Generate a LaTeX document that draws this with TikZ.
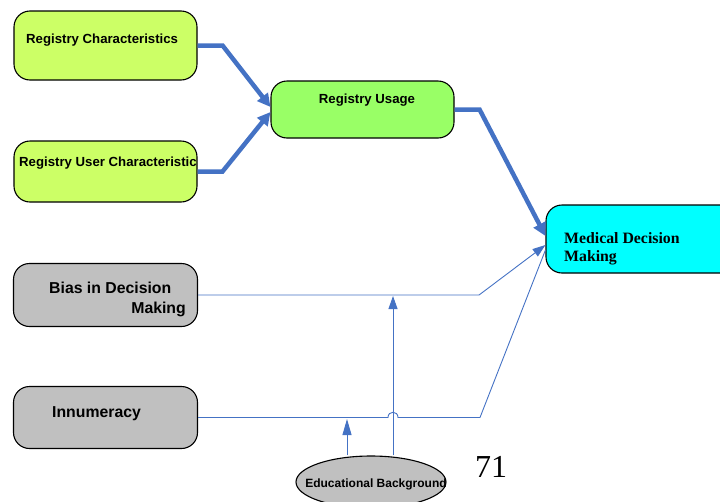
\documentclass[tikz,border=0pt]{standalone}
\usepackage{fontspec}
\setmainfont{Liberation Sans}
\newfontfamily\serifface{Liberation Serif}
\usetikzlibrary{arrows.meta,shapes.geometric}
\definecolor{limebox}{HTML}{CCFF66}
\definecolor{greenbox}{HTML}{99FF66}
\definecolor{cyanbox}{HTML}{00FFFF}
\definecolor{graybox}{HTML}{C0C0C0}
\definecolor{flow}{HTML}{4472C4}
\begin{document}
\begin{tikzpicture}[x=1pt,y=-1pt,
  box/.style={draw=black,line width=1.1pt,rounded corners=16pt,inner sep=0pt},
  lbl/.style={font=\bfseries\fontsize{13.2}{15}\selectfont,inner sep=0pt},
  biglbl/.style={font=\bfseries\fontsize{15.8}{18}\selectfont,inner sep=0pt},
  heavy/.style={draw=flow,line width=4.5pt,line join=miter,-{Triangle[length=13pt,width=13pt]}},
  light/.style={draw=flow,line width=0.9pt},
  lighttip/.style={light,-{Triangle[length=13pt,width=9pt]}}]
\useasboundingbox (0,0) rectangle (720,501);
\clip (0,0) rectangle (720,501);

% boxes
\node[box,fill=limebox,minimum width=183pt,minimum height=69pt] (rc) at (105.5,45.5) {};
\node[box,fill=limebox,minimum width=183pt,minimum height=61pt] (ruc) at (105.5,171.5) {};
\node[box,fill=greenbox,minimum width=183pt,minimum height=57pt] (ru) at (362.5,109.5) {};
\node[box,fill=cyanbox,minimum width=194pt,minimum height=68pt] (md) at (643,239) {};
\node[box,fill=graybox,minimum width=184pt,minimum height=63pt] (bias) at (105.5,295) {};
\node[box,fill=graybox,minimum width=184pt,minimum height=62pt] (innum) at (105.5,417.5) {};
\node[draw=black,line width=1.1pt,fill=graybox,ellipse,minimum width=150pt,minimum height=52pt,inner sep=0pt] (ed) at (371,482) {};

% labels
\node[lbl,anchor=base west] (rct) at (26,43) {Registry Characteristics};
\node[lbl,anchor=base west] (ruct) at (19,166) {Registry User Characteristic};
\node[lbl,anchor=base] (rut) at (367,103) {Registry Usage};
\node[font=\serifface\bfseries\fontsize{15.8}{18}\selectfont,inner sep=0pt,anchor=base west] (mdt1) at (564,243) {Medical Decision};
\node[font=\serifface\bfseries\fontsize{15.8}{18}\selectfont,inner sep=0pt,anchor=base west] (mdt2) at (564,261) {Making};
\node[biglbl,anchor=base west] (biast1) at (49,293) {Bias in Decision};
\node[biglbl,anchor=base east] (biast2) at (186,313) {Making};
\node[biglbl,anchor=base west] (innt) at (52,417) {Innumeracy};
\node[font=\bfseries\fontsize{12}{14}\selectfont,inner sep=0pt,anchor=base] (edt) at (376,487) {Educational Background};
\node[font=\serifface\fontsize{32}{36}\selectfont,inner sep=0pt,anchor=base west] (page) at (475,477) {71};

% heavy flows
\draw[heavy] (rc.east) -- ++(25,0) -- ([yshift=2.5pt]ru.west);
\draw[heavy] (ruc.east) -- ++(25,0) -- ([yshift=-2.5pt]ru.west);
\draw[heavy] (ru.east) -- ++(25,0) -- ([yshift=3pt]md.west);

% light flows
\draw[lighttip] (bias.east) -- ++(281,0) -- ([yshift=-6pt]md.west);
\draw[light] (innum.east) -- (388,417.5) .. controls (388,410.5) and (398,410.5) .. (398,417.5)
  -- (480,417.5) -- ([yshift=-11pt]md.west);

\coordinate (vtop) at (393,296);
\coordinate (itop) at (347,419);
\draw[lighttip] (ed.north -| vtop) -- (vtop);
\draw[light,-{Triangle[length=16pt,width=9pt]}] (ed.north -| itop) -- (itop);
\end{tikzpicture}
\end{document}
